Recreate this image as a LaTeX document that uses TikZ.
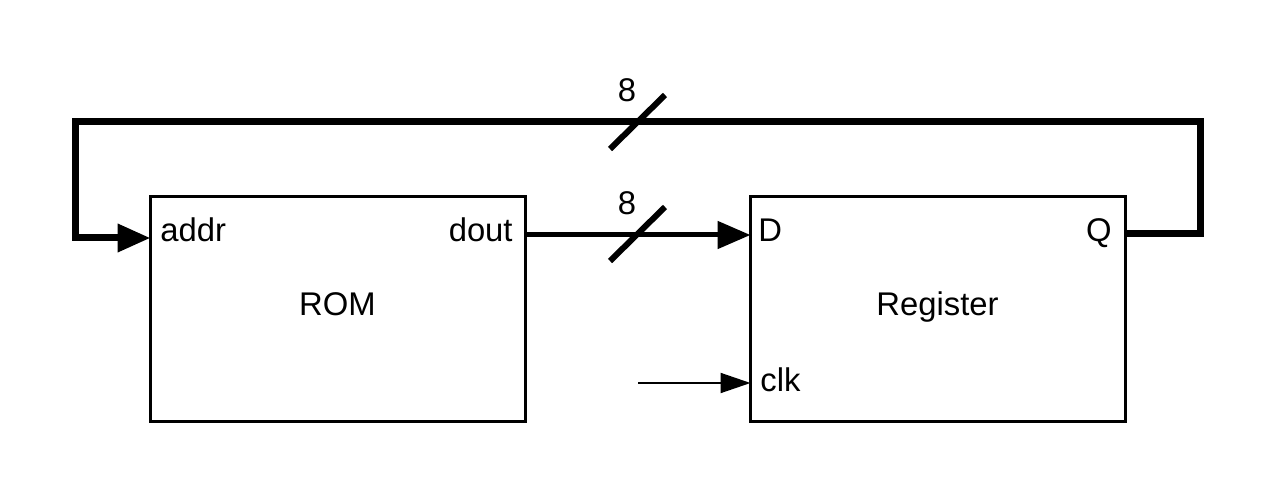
\documentclass[tikz,border=0pt]{standalone}
\usepackage{fontspec}
\setmainfont{Liberation Sans}
\usetikzlibrary{arrows.meta}
\begin{document}
\begin{tikzpicture}[x=0.5pt,y=-0.5pt,
  block/.style={draw,line width=1.5pt,minimum width=187.5pt,minimum height=112pt,inner sep=0pt},
  txt/.style={inner sep=0pt,font=\fontsize{16.4}{19}\selectfont},
  bigtip/.style={-{Triangle[length=16.5pt,width=13.5pt]}},
  smalltip/.style={-{Triangle[length=15pt,width=10pt]}},
  loopline/.style={line width=3.5pt,line join=miter},
  busline/.style={line width=2.5pt},
  slash/.style={line width=3pt}]
\useasboundingbox (0,0) rectangle (1275,497);
\node[block] (rom) at (337.5,309) {};
\node[block] (reg) at (937.5,309) {};
\node[txt,anchor=base] (romname) at (337.5,316) {ROM};
\node[txt,anchor=base] (regname) at (937.5,316) {Register};
\node[txt,anchor=base west] (addr) at (160,242) {addr};
\node[txt,anchor=base east] (dout) at (513,242) {dout};
\node[txt,anchor=base west] (d) at (758,242) {D};
\node[txt,anchor=base east] (q) at (1112,242) {Q};
\node[txt,anchor=base west] (clk) at (760,392) {clk};
\coordinate (romin) at ([xshift=1]rom.west |- 0,238);
\coordinate (romout) at (rom.east |- 0,235);
\coordinate (regin) at ([xshift=1]reg.west |- 0,235);
\coordinate (regout) at (reg.east |- 0,234);
\coordinate (regclk) at ([xshift=1]reg.west |- 0,383);
\coordinate (clksrc) at (638,383);
% feedback loop
\draw[loopline,bigtip] (regout) -| (1200,122) -| (75,238) -- (romin);
% data bus
\draw[busline,bigtip] (romout) -- (regin);
% clock
\draw[line width=1pt,smalltip] (clksrc) -- (regclk);
% bus width marks
\coordinate (s1) at (637.5,122);
\coordinate (s2) at (637.5,234);
\draw[slash] ([shift={(-27.5,27)}]s1) -- ([shift={(27.5,-27)}]s1);
\draw[slash] ([shift={(-27.5,27)}]s2) -- ([shift={(27.5,-27)}]s2);
\node[txt,anchor=base] (w1) at (627,102) {8};
\node[txt,anchor=base] (w2) at (627,215) {8};
\end{tikzpicture}
\end{document}
